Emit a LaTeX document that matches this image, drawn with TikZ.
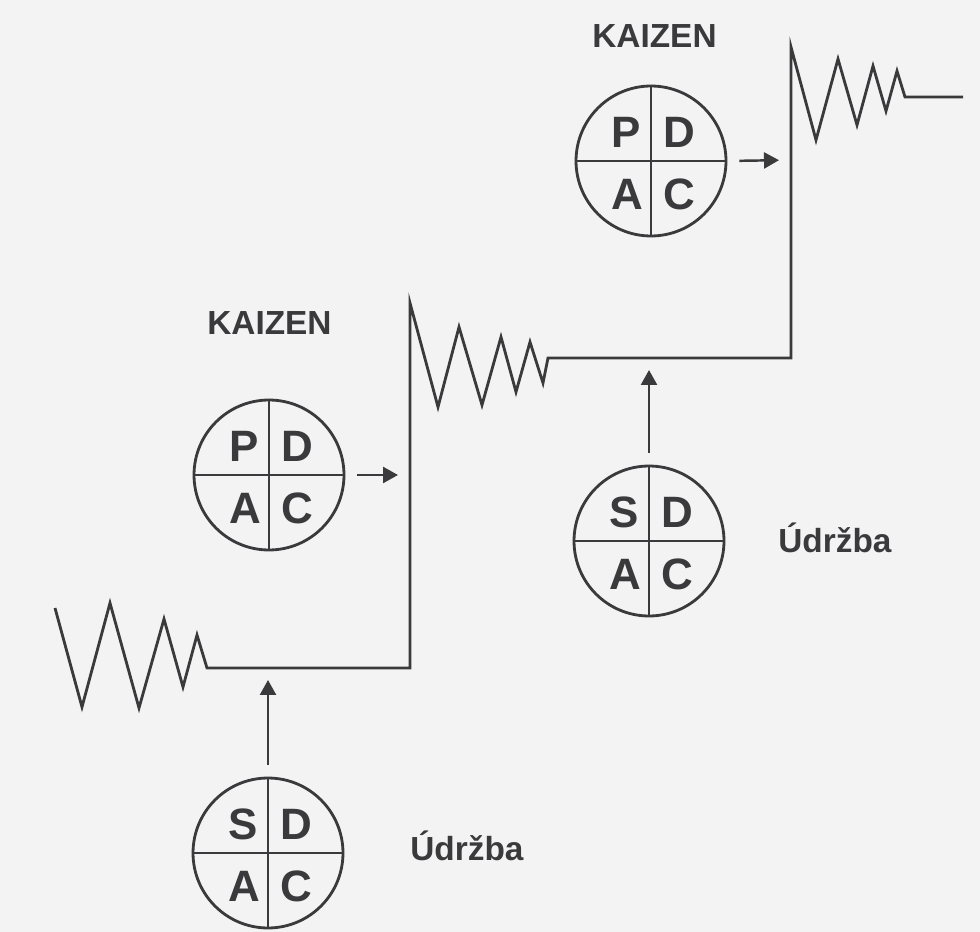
\documentclass[tikz,border=0pt]{standalone}
\usepackage{fontspec}
\setmainfont{Liberation Sans}
\usetikzlibrary{arrows.meta,calc}

\definecolor{ink}{RGB}{58,58,60}
\definecolor{paper}{RGB}{243,243,243}

\begin{document}
\begin{tikzpicture}[
  x=0.02cm, y=-0.02cm,
  ln/.style={draw=ink, line width=1.6pt},
  cyc/.style={circle, draw=ink, line width=1.6pt, minimum size=3cm, inner sep=0pt},
  let/.style={text=ink, font=\fontsize{25}{25}\selectfont\bfseries, inner sep=0pt},
  lab/.style={text=ink, font=\fontsize{19}{19}\selectfont\bfseries, inner sep=0pt, anchor=base west},
  arr/.style={-{Triangle[length=3mm, width=3.2mm]}, draw=ink, line width=1.4pt,
              shorten <=0.24cm, shorten >=0.24cm}
]
\fill[paper] (0,0) rectangle (980,932);
\useasboundingbox (0,0) rectangle (980,932);

% the rising line with its three zigzags
\draw[ln] (55,608) -- (82,707) -- (110,603) -- (139,708) -- (164,619) -- (183,687)
  -- (197,635) -- (207,668) -- (410,668) -- (410,303) -- (438,407) -- (459,327)
  -- (482,405) -- (501,337) -- (516,392) -- (530,342) -- (543,383) -- (548,358)
  -- (791,358) -- (791,47) -- (816,140) -- (838,59) -- (857,125) -- (873,66)
  -- (886,111) -- (897,71) -- (905,97) -- (963,97);

\coordinate (stA) at (410,475);
\coordinate (stB) at (791,160);
\coordinate (flA) at (268,668);
\coordinate (flB) at (649,358);

\node[cyc] (pdA) at (269,475) {};
\node[cyc] (pdB) at (651,161) {};
\node[cyc] (sdA) at (268,853) {};
\node[cyc] (sdB) at (649,541) {};

\foreach \c/\f in {pdA/P, pdB/P, sdA/S, sdB/S} {
  \draw[ln] (\c.north) -- (\c.south);
  \draw[ln] (\c.west) -- (\c.east);
  \node[let] (\c-1) at ($(\c)+(-25,-29)$) {\f};
  \node[let] (\c-2) at ($(\c)+(28,-29)$) {D};
  \node[let] (\c-3) at ($(\c)+(-24,33)$) {A};
  \node[let] (\c-4) at ($(\c)+(28,33)$) {C};
}

\node[lab] (kzA) at (207,335) {KAIZEN};
\node[lab] (kzB) at (592,48) {KAIZEN};
\node[lab] (udA) at (410,860) {Údržba};
\node[lab] (udB) at (778,552) {Údržba};

\draw[arr] (pdA.east) -- (stA);
\draw[arr] (pdB.east) -- (stB);
\draw[arr] (sdA.north) -- (flA);
\draw[arr] (sdB.north) -- (flB);
\end{tikzpicture}
\end{document}
